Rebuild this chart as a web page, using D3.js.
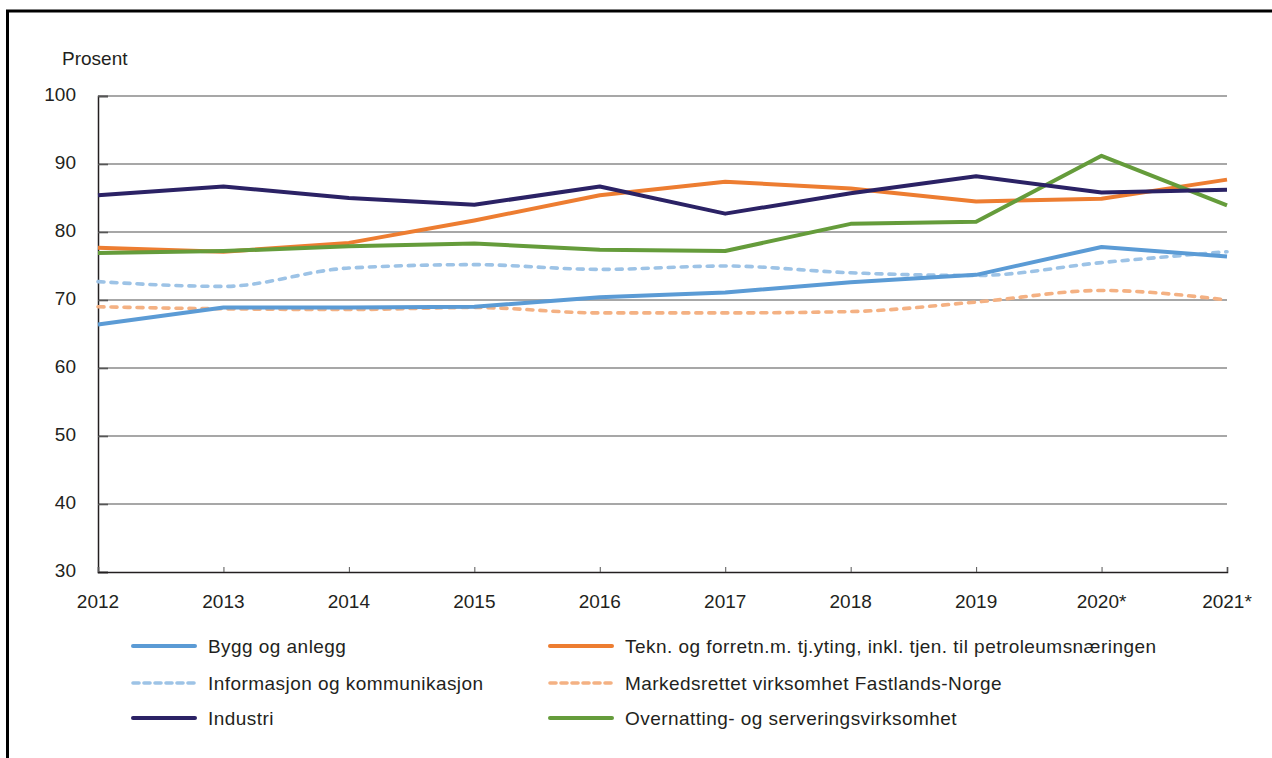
<!DOCTYPE html>
<html>
<head>
<meta charset="utf-8">
<script src="https://cdn.jsdelivr.net/npm/d3@7"></script>
<style>
  html, body { margin: 0; padding: 0; background: #fff; }
  svg { display: block; font-family: "Liberation Sans", Arial, sans-serif; }
</style>
</head>
<body>
<svg id="chart" width="1272" height="758"></svg>
<script>
// Andel i prosent per næring, 2012–2021*
const years = ["2012", "2013", "2014", "2015", "2016", "2017", "2018", "2019", "2020*", "2021*"];
const yTicks = [30, 40, 50, 60, 70, 80, 90, 100];

const byggOgAnlegg   = [66.4, 68.9, 68.9, 69.0, 70.4, 71.1, 72.6, 73.7, 77.8, 76.4];
const tekniskTjeneste = [77.7, 77.1, 78.4, 81.7, 85.4, 87.4, 86.4, 84.5, 84.9, 87.7];
const informasjon    = [72.7, 72.0, 74.7, 75.2, 74.5, 75.0, 74.0, 73.6, 75.5, 77.1];
const markedsrettet  = [69.0, 68.7, 68.6, 68.9, 68.1, 68.1, 68.3, 69.7, 71.4, 70.0];
const industri       = [85.4, 86.7, 85.0, 84.0, 86.7, 82.7, 85.7, 88.2, 85.8, 86.2];
const overnatting    = [76.9, 77.2, 77.9, 78.3, 77.4, 77.2, 81.2, 81.5, 91.2, 83.9];

const seriesNames = [
  "Bygg og anlegg",
  "Tekn. og forretn.m. tj.yting, inkl. tjen. til petroleumsnæringen",
  "Informasjon og kommunikasjon",
  "Markedsrettet virksomhet Fastlands-Norge",
  "Industri",
  "Overnatting- og serveringsvirksomhet"
];
const seriesValues = [byggOgAnlegg, tekniskTjeneste, informasjon, markedsrettet, industri, overnatting];

const styles = [
  { color: "#5b9bd5", dashed: false },
  { color: "#ed7d31", dashed: false },
  { color: "#9dc3e6", dashed: true },
  { color: "#f4b183", dashed: true },
  { color: "#2b2265", dashed: false },
  { color: "#659c3b", dashed: false }
];

const fontSize = 19;
const textColor = "#231f20";

const svg = d3.select("#chart");
const plotLeft = 98, plotRight = 1227, plotTop = 96, plotBottom = 572;

const x = d3.scalePoint().domain(years).range([plotLeft, plotRight]);
const y = d3.scaleLinear().domain([30, 100]).range([plotBottom, plotTop]);

// Ramme
svg.append("line").attr("x1", 6).attr("x2", 1272).attr("y1", 11).attr("y2", 11)
  .attr("stroke", "#000").attr("stroke-width", 3);
svg.append("line").attr("x1", 7.5).attr("x2", 7.5).attr("y1", 10).attr("y2", 758)
  .attr("stroke", "#000").attr("stroke-width", 3);

// Rutenett
svg.append("g").selectAll("line").data(yTicks.filter(d => d > 30)).join("line")
  .attr("x1", plotLeft).attr("x2", plotRight)
  .attr("y1", d => y(d)).attr("y2", d => y(d))
  .attr("stroke", "#8a8a8a").attr("stroke-width", 1.6);

// Y-akse
const yAxis = d3.axisRight(y).tickValues(yTicks).tickSize(10).tickFormat("");
const gy = svg.append("g").attr("transform", `translate(${plotLeft},0)`).call(yAxis);
gy.select(".domain").attr("stroke", textColor).attr("stroke-width", 1.5);
gy.selectAll(".tick line").attr("stroke", "#555").attr("stroke-width", 1.6);

svg.append("g").selectAll("text").data(yTicks).join("text")
  .attr("x", 76).attr("y", d => y(d) + 5)
  .attr("text-anchor", "end").attr("font-size", fontSize).attr("fill", textColor)
  .text(d => d);

svg.append("text").attr("x", 62).attr("y", 65).attr("font-size", fontSize)
  .attr("fill", textColor).text("Prosent");

// X-akse
const xAxis = d3.axisTop(x).tickSize(5).tickFormat("");
const gx = svg.append("g").attr("transform", `translate(0,${plotBottom})`).call(xAxis);
gx.select(".domain").attr("stroke", textColor).attr("stroke-width", 1.5);
gx.selectAll(".tick line").attr("stroke", "#555").attr("stroke-width", 1);

svg.append("g").selectAll("text").data(years).join("text")
  .attr("x", d => x(d)).attr("y", 608)
  .attr("text-anchor", "middle").attr("font-size", fontSize).attr("fill", textColor)
  .text(d => d);

// Linjer
const solidLine = d3.line().x((d, i) => x(years[i])).y(d => y(d));
const smoothLine = d3.line().x((d, i) => x(years[i])).y(d => y(d)).curve(d3.curveMonotoneX);

const drawOrder = [3, 2, 0, 1, 5, 4];
svg.append("g").selectAll("path").data(drawOrder).join("path")
  .attr("d", k => (styles[k].dashed ? smoothLine : solidLine)(seriesValues[k]))
  .attr("fill", "none")
  .attr("stroke", k => styles[k].color)
  .attr("stroke-width", k => styles[k].dashed ? 3.6 : 4)
  .attr("stroke-linecap", k => styles[k].dashed ? "round" : "butt")
  .attr("stroke-linejoin", "round")
  .attr("stroke-dasharray", k => styles[k].dashed ? "6,7" : null);

// Tegnforklaring
const legendCols = [131, 548];
const legendRows = [646, 683, 718];
const legend = svg.append("g").selectAll("g").data(seriesNames).join("g")
  .attr("transform", (d, i) => `translate(${legendCols[i % 2]},${legendRows[Math.floor(i / 2)]})`);
legend.append("line")
  .attr("x1", 2).attr("x2", 64).attr("y1", 0).attr("y2", 0)
  .attr("stroke", (d, i) => styles[i].color)
  .attr("stroke-width", (d, i) => styles[i].dashed ? 3.6 : 4)
  .attr("stroke-linecap", "round")
  .attr("stroke-dasharray", (d, i) => styles[i].dashed ? "6,5" : null);
legend.append("text")
  .attr("x", 77).attr("y", 7).attr("font-size", fontSize).attr("fill", textColor)
  .attr("letter-spacing", 0.45)
  .text(d => d);
</script>
</body>
</html>
